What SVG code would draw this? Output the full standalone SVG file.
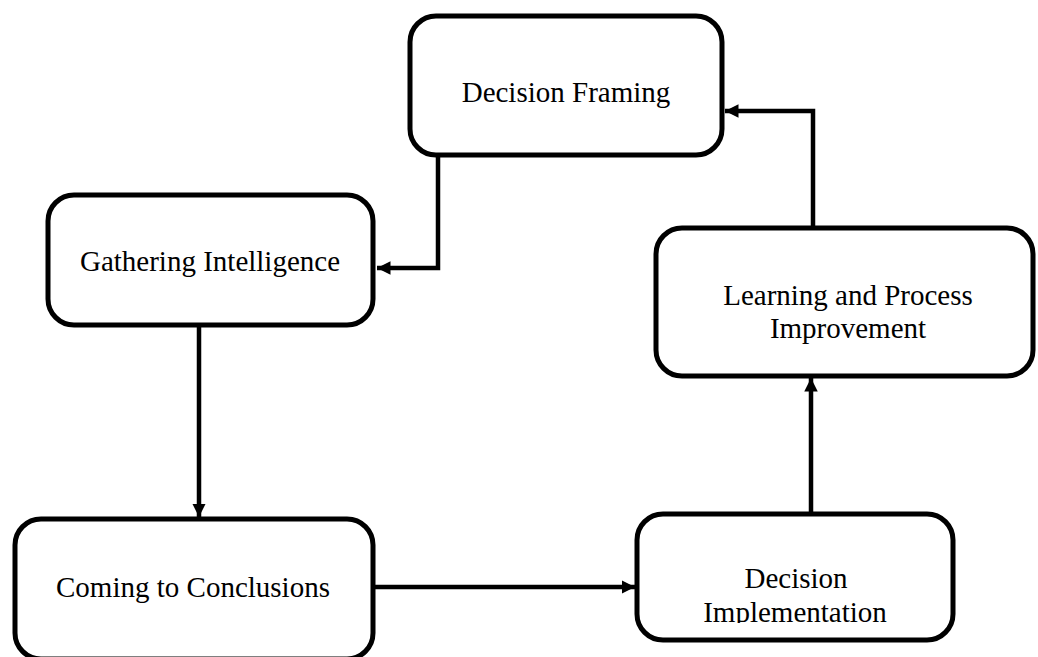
<svg xmlns="http://www.w3.org/2000/svg" width="1038" height="657" viewBox="0 0 1038 657">
<style>
.box{fill:#fff;stroke:#000;stroke-width:5}
.lbl{font-family:"Liberation Serif","Times New Roman",serif;font-size:29px;fill:#000;text-anchor:middle}
.conn{fill:none;stroke:#000;stroke-width:4.5}
</style>
<defs>
<marker id="arr" viewBox="0 0 10 10" refX="10" refY="5" markerWidth="3" markerHeight="3" orient="auto" markerUnits="strokeWidth">
<path d="M0,0 L10,5 L0,10 z" fill="#000"/>
</marker>
<clipPath id="clipImpl"><rect x="637" y="514" width="316" height="109"/></clipPath>
</defs>
<rect width="1038" height="657" fill="#fff"/>
<g id="connectors">
<path class="conn" d="M438,155 V268 H377" marker-end="url(#arr)"/>
<path class="conn" d="M199,325 V517" marker-end="url(#arr)"/>
<path class="conn" d="M373,587 H635" marker-end="url(#arr)"/>
<path class="conn" d="M811,514 V378" marker-end="url(#arr)"/>
<path class="conn" d="M813,228 V111 H725" marker-end="url(#arr)"/>
</g>
<g id="decision-framing">
<rect class="box" x="410" y="16" width="312" height="139" rx="26"/>
<text class="lbl" x="566" y="102">Decision Framing</text>
</g>
<g id="gathering-intelligence">
<rect class="box" x="48" y="195" width="325" height="130" rx="26"/>
<text class="lbl" x="210" y="271">Gathering Intelligence</text>
</g>
<g id="coming-to-conclusions">
<rect class="box" x="15" y="519" width="358" height="140" rx="26"/>
<text class="lbl" x="193" y="597">Coming to Conclusions</text>
</g>
<g id="decision-implementation">
<rect class="box" x="637" y="514" width="316" height="126" rx="26"/>
<text class="lbl" x="796" y="588">Decision</text>
<text class="lbl" x="795" y="622" clip-path="url(#clipImpl)">Implementation</text>
</g>
<g id="learning-process-improvement">
<rect class="box" x="656" y="228" width="377" height="148" rx="26"/>
<text class="lbl" x="848" y="305">Learning and Process</text>
<text class="lbl" x="848" y="338">Improvement</text>
</g>
</svg>
